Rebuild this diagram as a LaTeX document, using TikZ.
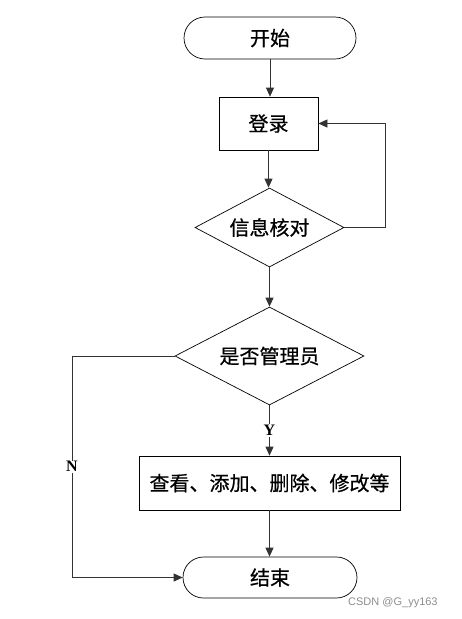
\documentclass[tikz,border=0pt]{standalone}
\usepackage{fontspec}
\newfontfamily\cjk[FakeBold=0.6]{Noto Sans CJK SC}
\newfontfamily\lserif{Liberation Serif}
\newfontfamily\lsans{Liberation Sans}
\usetikzlibrary{arrows.meta,shapes.geometric,shapes.misc}
\begin{document}
\begin{tikzpicture}[x=1pt,y=-1pt,
  txt/.style={font=\cjk\fontsize{20}{22}\selectfont},
  term/.style={txt,draw,rounded rectangle,minimum width=172pt,minimum height=42pt,inner sep=0pt,line width=0.7pt},
  proc/.style={txt,draw,rectangle,inner sep=0pt,line width=0.7pt},
  dec/.style={txt,draw,diamond,inner sep=0pt,line width=0.7pt},
  conn/.style={draw=black!80,line width=0.7pt,-{Triangle[length=9pt,width=8pt]}},
  lbl/.style={font=\lserif\bfseries\fontsize{16}{18}\selectfont,fill=white,inner sep=1pt}]
\useasboundingbox (0,0) rectangle (461,619);
\node[term] (start) at (270,38) {开始};
\node[proc,minimum width=99pt,minimum height=53pt] (login) at (268.5,123.5) {登录};
\node[dec,aspect=1.886,minimum width=149pt,minimum height=79pt] (check) at (269.5,227.5) {信息核对};
\node[dec,aspect=1.93,minimum width=189pt,minimum height=98pt] (admin) at (269.5,356) {是否管理员};
\node[proc,minimum width=261pt,minimum height=54pt] (ops) at (269.5,483) {查看、添加、删除、修改等};
\node[term,minimum width=174pt,minimum height=41pt] (end) at (270,577.5) {结束};
\coordinate (r1) at (385,227.5);
\coordinate (r2) at (385,123.5);
\coordinate (l1) at (72,356);
\coordinate (l2) at (72,577.5);
\draw[conn] (start.south) -- (start.south |- login.north);
\draw[conn] (login.south) -- (login.south |- check.north);
\draw[conn] (check.east) -- (r1) -- (r2) -- (login.east);
\draw[conn] (check.south) -- (check.south |- admin.north);
\draw[conn] (admin.south) -- node[lbl,pos=0.5]{Y} (admin.south |- ops.north);
\draw[conn] (admin.west) -- (l1) -- node[lbl,pos=0.5]{N} (l2) -- (end.west);
\draw[conn] (ops.south) -- (ops.south |- end.north);
\node[font=\lsans\fontsize{11}{12}\selectfont,text=black!45,anchor=west,inner sep=0pt] (wm) at (348,603) {CSDN @G\_yy163};
\end{tikzpicture}
\end{document}
